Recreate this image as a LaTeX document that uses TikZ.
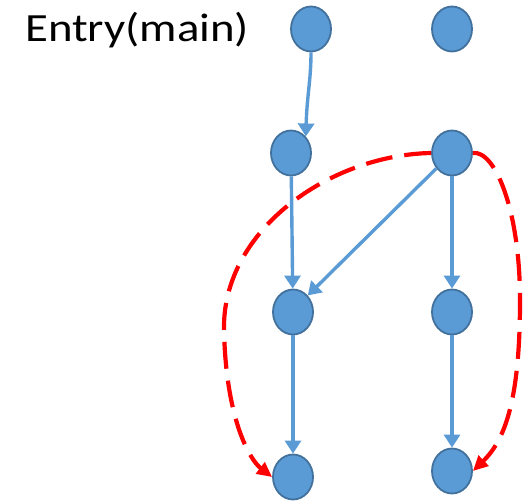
\documentclass[tikz,border=0pt]{standalone}
\usepackage{fontspec}
\setmainfont{Carlito}
\usetikzlibrary{arrows.meta,positioning,shapes.geometric}
\definecolor{nodefill}{HTML}{5B9BD5}
\definecolor{nodeline}{HTML}{41719C}
\begin{document}
\begin{tikzpicture}[x=1pt,y=-1pt,
  bb/.style={ellipse, fill=nodefill, draw=nodeline, line width=1.8pt,
    minimum width=40pt, minimum height=45pt, inner sep=0pt},
  edge/.style={draw=nodefill, line width=3.4pt, -{Triangle[width=16pt,length=13pt]}},
  call/.style={draw=red, line width=4.2pt, dash pattern=on 27pt off 12pt,
    -{Triangle[width=14pt,length=15pt]}}]
  \useasboundingbox (0,0) rectangle (524,502);
  \node[anchor=base west, xscale=1.17, inner sep=0pt,
    font=\fontsize{40}{48}\selectfont] (entry) at (25,42) {Entry(main)};
  % basic blocks
  \node[bb] (A) at (311,29) {};
  \node[bb] (B) at (452,29) {};
  \node[bb] (C) at (291,153) {};
  \node[bb] (D) at (452,153) {};
  \node[bb] (E) at (293,312) {};
  \node[bb] (F) at (452,312) {};
  \node[bb] (G) at (293,477) {};
  \node[bb] (H) at (452,471) {};
  % control flow
  \draw[edge] (A.south) .. controls (311,80) and (307,95) .. (C.north east);
  \draw[edge] (C) -- (E);
  \draw[edge] (D) -- (E.north east);
  \draw[edge] (D) -- (F);
  \draw[edge] (E) -- (G);
  \draw[edge] (F) -- (H);
  % calls
  \draw[call] (D.west) .. controls (330,155) and (222,230) .. (224,330)
    .. controls (226,420) and (250,460) .. (G.west);
  \draw[call] (D.east) .. controls (495,150) and (520,210) .. (520,300)
    .. controls (520,400) and (505,440) .. (H.east);
\end{tikzpicture}
\end{document}
